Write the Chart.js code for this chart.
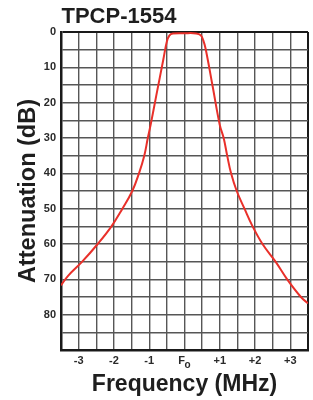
<!DOCTYPE html>
<html>
<head>
<meta charset="utf-8">
<script src="https://cdn.jsdelivr.net/npm/chart.js@4/dist/chart.umd.min.js"></script>
<style>
html,body{margin:0;padding:0;background:#fff;}
#wrap{width:313px;height:400px;}
</style>
</head>
<body>
<div id="wrap"><canvas id="c" width="313" height="400"></canvas></div>
<script>
// ---- data ----
const chartTitle = 'TPCP-1554';
const xTickValues = [-3, -2, -1, 0, 1, 2, 3];
const xTickLabels = ['-3', '-2', '-1', 'F', '+1', '+2', '+3'];
const xTickSubscripts = ['', '', '', 'o', '', '', ''];
const yTickValues = [0, 10, 20, 30, 40, 50, 60, 70, 80];
const yTickLabels = ['0', '10', '20', '30', '40', '50', '60', '70', '80'];
const freqMHz = [-3.5, -3.3, -2.9, -2.46, -2.07, -1.76, -1.48, -1.29, -1.14, -1.04, -0.96, -0.8, -0.6, -0.5, -0.43, -0.33, 0, 0.33, 0.46, 0.53, 0.6, 0.8, 1.0, 1.11, 1.21, 1.32, 1.48, 1.7, 1.93, 2.21, 2.58, 2.91, 3.3, 3.5];
const attenDb = [71.7, 69, 65, 60, 55, 50, 45, 40, 35, 30, 26.3, 18, 7.8, 2.7, 1.0, 0.45, 0.35, 0.4, 0.9, 2.3, 4.8, 15.5, 26.3, 30, 35, 40, 45, 50, 55, 60, 65, 70, 75, 76.8];

const points = freqMHz.map((f, i) => ({x: f, y: attenDb[i]}));
const FONT = "'Liberation Sans', Arial, sans-serif";

const titlePlugin = {
  id: 'leftTitle',
  afterDraw(chart) {
    const ctx = chart.ctx;
    ctx.save();
    ctx.font = 'bold 22px ' + FONT;
    ctx.fillStyle = '#1e1e1e';
    ctx.textAlign = 'left';
    ctx.textBaseline = 'alphabetic';
    ctx.fillText(chartTitle, chart.chartArea.left + 0.5, 23);
    ctx.restore();
  }
};

// x tick labels with optional subscript (F with subscript o), centred as a group
const xLabelPlugin = {
  id: 'xLabels',
  afterDraw(chart) {
    const ctx = chart.ctx;
    const xs = chart.scales.x;
    const baseY = xs.top + 5 + 9;
    ctx.save();
    ctx.fillStyle = '#2a2a2a';
    ctx.textBaseline = 'alphabetic';
    ctx.textAlign = 'left';
    xTickValues.forEach((v, i) => {
      const px = xs.getPixelForValue(v);
      ctx.font = 'bold 11px ' + FONT;
      const main = xTickLabels[i];
      const wMain = ctx.measureText(main).width;
      const sub = xTickSubscripts[i];
      ctx.font = 'bold 10px ' + FONT;
      const wSub = sub ? ctx.measureText(sub).width - 0.5 : 0;
      const start = px - (wMain + wSub) / 2;
      ctx.font = 'bold 11px ' + FONT;
      ctx.fillText(main, start, baseY);
      if (sub) {
        ctx.font = 'bold 10px ' + FONT;
        ctx.fillText(sub, start + wMain - 0.5, baseY + 4);
      }
    });
    ctx.restore();
  }
};

const gridColor = (min, max) => (c) => {
  const v = c.tick ? c.tick.value : null;
  return (v === min || v === max) ? '#1a1a1a' : '#565656';
};
const gridWidth = (min, max) => (c) => {
  const v = c.tick ? c.tick.value : null;
  return (v === min || v === max) ? 2 : 1.4;
};

new Chart(document.getElementById('c'), {
  type: 'line',
  data: {
    datasets: [{
      data: points,
      borderColor: '#e9302a',
      borderWidth: 2,
      pointRadius: 0,
      fill: false,
      tension: 0.4
    }]
  },
  options: {
    responsive: false,
    animation: false,
    layout: {padding: {top: 32, right: 2, left: 0, bottom: 0}},
    plugins: {legend: {display: false}, tooltip: {enabled: false}, title: {display: false}},
    scales: {
      x: {
        type: 'linear',
        min: -3.5, max: 3.5,
        afterFit: (s) => { s.height = 50; },
        ticks: {
          stepSize: 0.5,
          autoSkip: false,
          maxRotation: 0,
          padding: 5,
          color: 'rgba(0,0,0,0)',
          font: {family: FONT, size: 11, weight: 'bold'},
          callback: (v) => {
            const i = xTickValues.indexOf(v);
            return i >= 0 ? xTickLabels[i] + xTickSubscripts[i] : '';
          }
        },
        grid: {drawTicks: false, color: gridColor(-3.5, 3.5), lineWidth: gridWidth(-3.5, 3.5)},
        border: {display: true, color: '#1a1a1a', width: 2.5},
        title: {
          display: true,
          text: 'Frequency (MHz)',
          color: '#1e1e1e',
          font: {family: FONT, size: 23, weight: 'bold'},
          padding: {top: 0, bottom: 2}
        }
      },
      y: {
        type: 'linear',
        min: 0, max: 90,
        reverse: true,
        afterFit: (s) => { s.width = 61; },
        ticks: {
          stepSize: 5,
          autoSkip: false,
          padding: 5,
          color: '#2a2a2a',
          font: {family: FONT, size: 11, weight: 'bold'},
          callback: (v) => {
            const i = yTickValues.indexOf(v);
            return i >= 0 ? yTickLabels[i] : '';
          }
        },
        grid: {drawTicks: false, color: gridColor(0, 90), lineWidth: gridWidth(0, 90)},
        border: {display: true, color: '#1a1a1a', width: 2.5},
        title: {
          display: true,
          text: 'Attenuation (dB)',
          color: '#1e1e1e',
          font: {family: FONT, size: 23.5, weight: 'bold'},
          padding: {top: 14, bottom: 0}
        }
      }
    }
  },
  plugins: [titlePlugin, xLabelPlugin]
});
</script>
</body>
</html>
